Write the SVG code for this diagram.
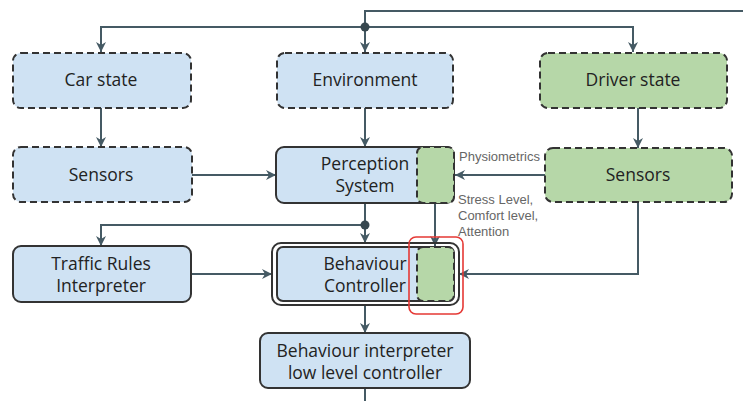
<svg xmlns="http://www.w3.org/2000/svg" width="743" height="401" viewBox="0 0 743 401">
  <defs>
    <marker id="arrow" viewBox="0 0 10 10" refX="10" refY="5" markerWidth="10" markerHeight="10" markerUnits="userSpaceOnUse" orient="auto">
      <path d="M0,0 L10,5 L0,10 L3,5 Z" fill="#455a64"/>
    </marker>
    <style>
      .blue { fill: #cfe2f3; }
      .green { fill: #b6d7a8; }
      .solid { stroke: #333; stroke-width: 2; }
      .dash { stroke: #333; stroke-width: 2; stroke-dasharray: 7 4; }
      .label { font-family: "Open Sans", "Noto Sans", "DejaVu Sans", sans-serif; font-size: 17.5px; fill: #222; text-anchor: middle; }
      .note { font-family: "Liberation Sans", Arial, sans-serif; font-size: 13px; fill: #666; }
      .wire { fill: none; stroke: #455a64; stroke-width: 2; }
      .arr { marker-end: url(#arrow); }
    </style>
  </defs>

  <rect width="743" height="401" fill="#fff"/>

  <!-- connectors -->
  <g id="connectors">
    <path class="wire" d="M743,11 H365 V27"/>
    <path class="wire arr" d="M365,27 H101 V52"/>
    <path class="wire arr" d="M365,27 H633 V52"/>
    <path class="wire arr" d="M365,27 V52"/>
    <circle cx="365" cy="27" r="4.5" fill="#37474f"/>

    <path class="wire arr" d="M101,108 V147"/>
    <path class="wire arr" d="M365,108 V147"/>
    <path class="wire arr" d="M638,108 V148"/>

    <path class="wire arr" d="M192,175 H276"/>
    <path class="wire arr" d="M545,175 H455"/>

    <path class="wire arr" d="M365,203 V243"/>
    <path class="wire arr" d="M365,225 H101 V246"/>
    <circle cx="365" cy="225" r="4.5" fill="#37474f"/>

    <path class="wire arr" d="M435,203 V246"/>
    <path class="wire arr" d="M638,202 V274 H459"/>
    <path class="wire arr" d="M192,274 H272"/>

    <path class="wire arr" d="M365,305 V333"/>
    <path class="wire" d="M365,388 V401"/>
  </g>

  <!-- top row -->
  <g id="car-state">
    <rect class="blue dash" x="13" y="53" width="178" height="55" rx="8"/>
    <text class="label" x="101" y="86">Car state</text>
  </g>
  <g id="environment">
    <rect class="blue dash" x="277" y="53" width="176" height="55" rx="8"/>
    <text class="label" x="365" y="86">Environment</text>
  </g>
  <g id="driver-state">
    <rect class="green dash" x="540" y="53" width="187" height="55" rx="8"/>
    <text class="label" x="633" y="86">Driver state</text>
  </g>

  <!-- second row -->
  <g id="car-sensors">
    <rect class="blue dash" x="13" y="147" width="179" height="55" rx="8"/>
    <text class="label" x="101" y="181">Sensors</text>
  </g>
  <g id="perception-system">
    <rect class="blue solid" x="276" y="147" width="178" height="56" rx="8"/>
    <rect class="green dash" x="417" y="147" width="37" height="56" rx="6"/>
    <text class="label"><tspan x="365" y="170">Perception</tspan><tspan x="365" y="192">System</tspan></text>
  </g>
  <g id="driver-sensors">
    <rect class="green dash" x="545" y="148" width="187" height="54" rx="8"/>
    <text class="label" x="638" y="181">Sensors</text>
  </g>

  <text class="note" x="459" y="161">Physiometrics</text>
  <text class="note"><tspan x="458" y="204">Stress Level,</tspan><tspan x="458" y="220">Comfort level,</tspan><tspan x="458" y="236">Attention</tspan></text>

  <!-- third row -->
  <g id="traffic-rules">
    <rect class="blue solid" x="13" y="246" width="178" height="56" rx="8"/>
    <text class="label"><tspan x="101" y="270">Traffic Rules</tspan><tspan x="101" y="292">Interpreter</tspan></text>
  </g>
  <g id="behaviour-controller">
    <rect fill="none" class="solid" x="272" y="243" width="187" height="62" rx="9"/>
    <rect class="blue solid" x="277" y="247" width="177" height="54" rx="6"/>
    <rect class="green dash" x="417" y="247" width="37" height="54" rx="6"/>
    <text class="label"><tspan x="365" y="270">Behaviour</tspan><tspan x="365" y="292">Controller</tspan></text>
    <rect x="409" y="237" width="54" height="77" rx="7" fill="none" stroke="#e53935" stroke-width="1.6"/>
  </g>

  <!-- bottom -->
  <g id="behaviour-interpreter">
    <rect class="blue solid" x="260" y="333" width="210" height="55" rx="8"/>
    <text class="label"><tspan x="365" y="357">Behaviour interpreter</tspan><tspan x="365" y="379">low level controller</tspan></text>
  </g>
</svg>
